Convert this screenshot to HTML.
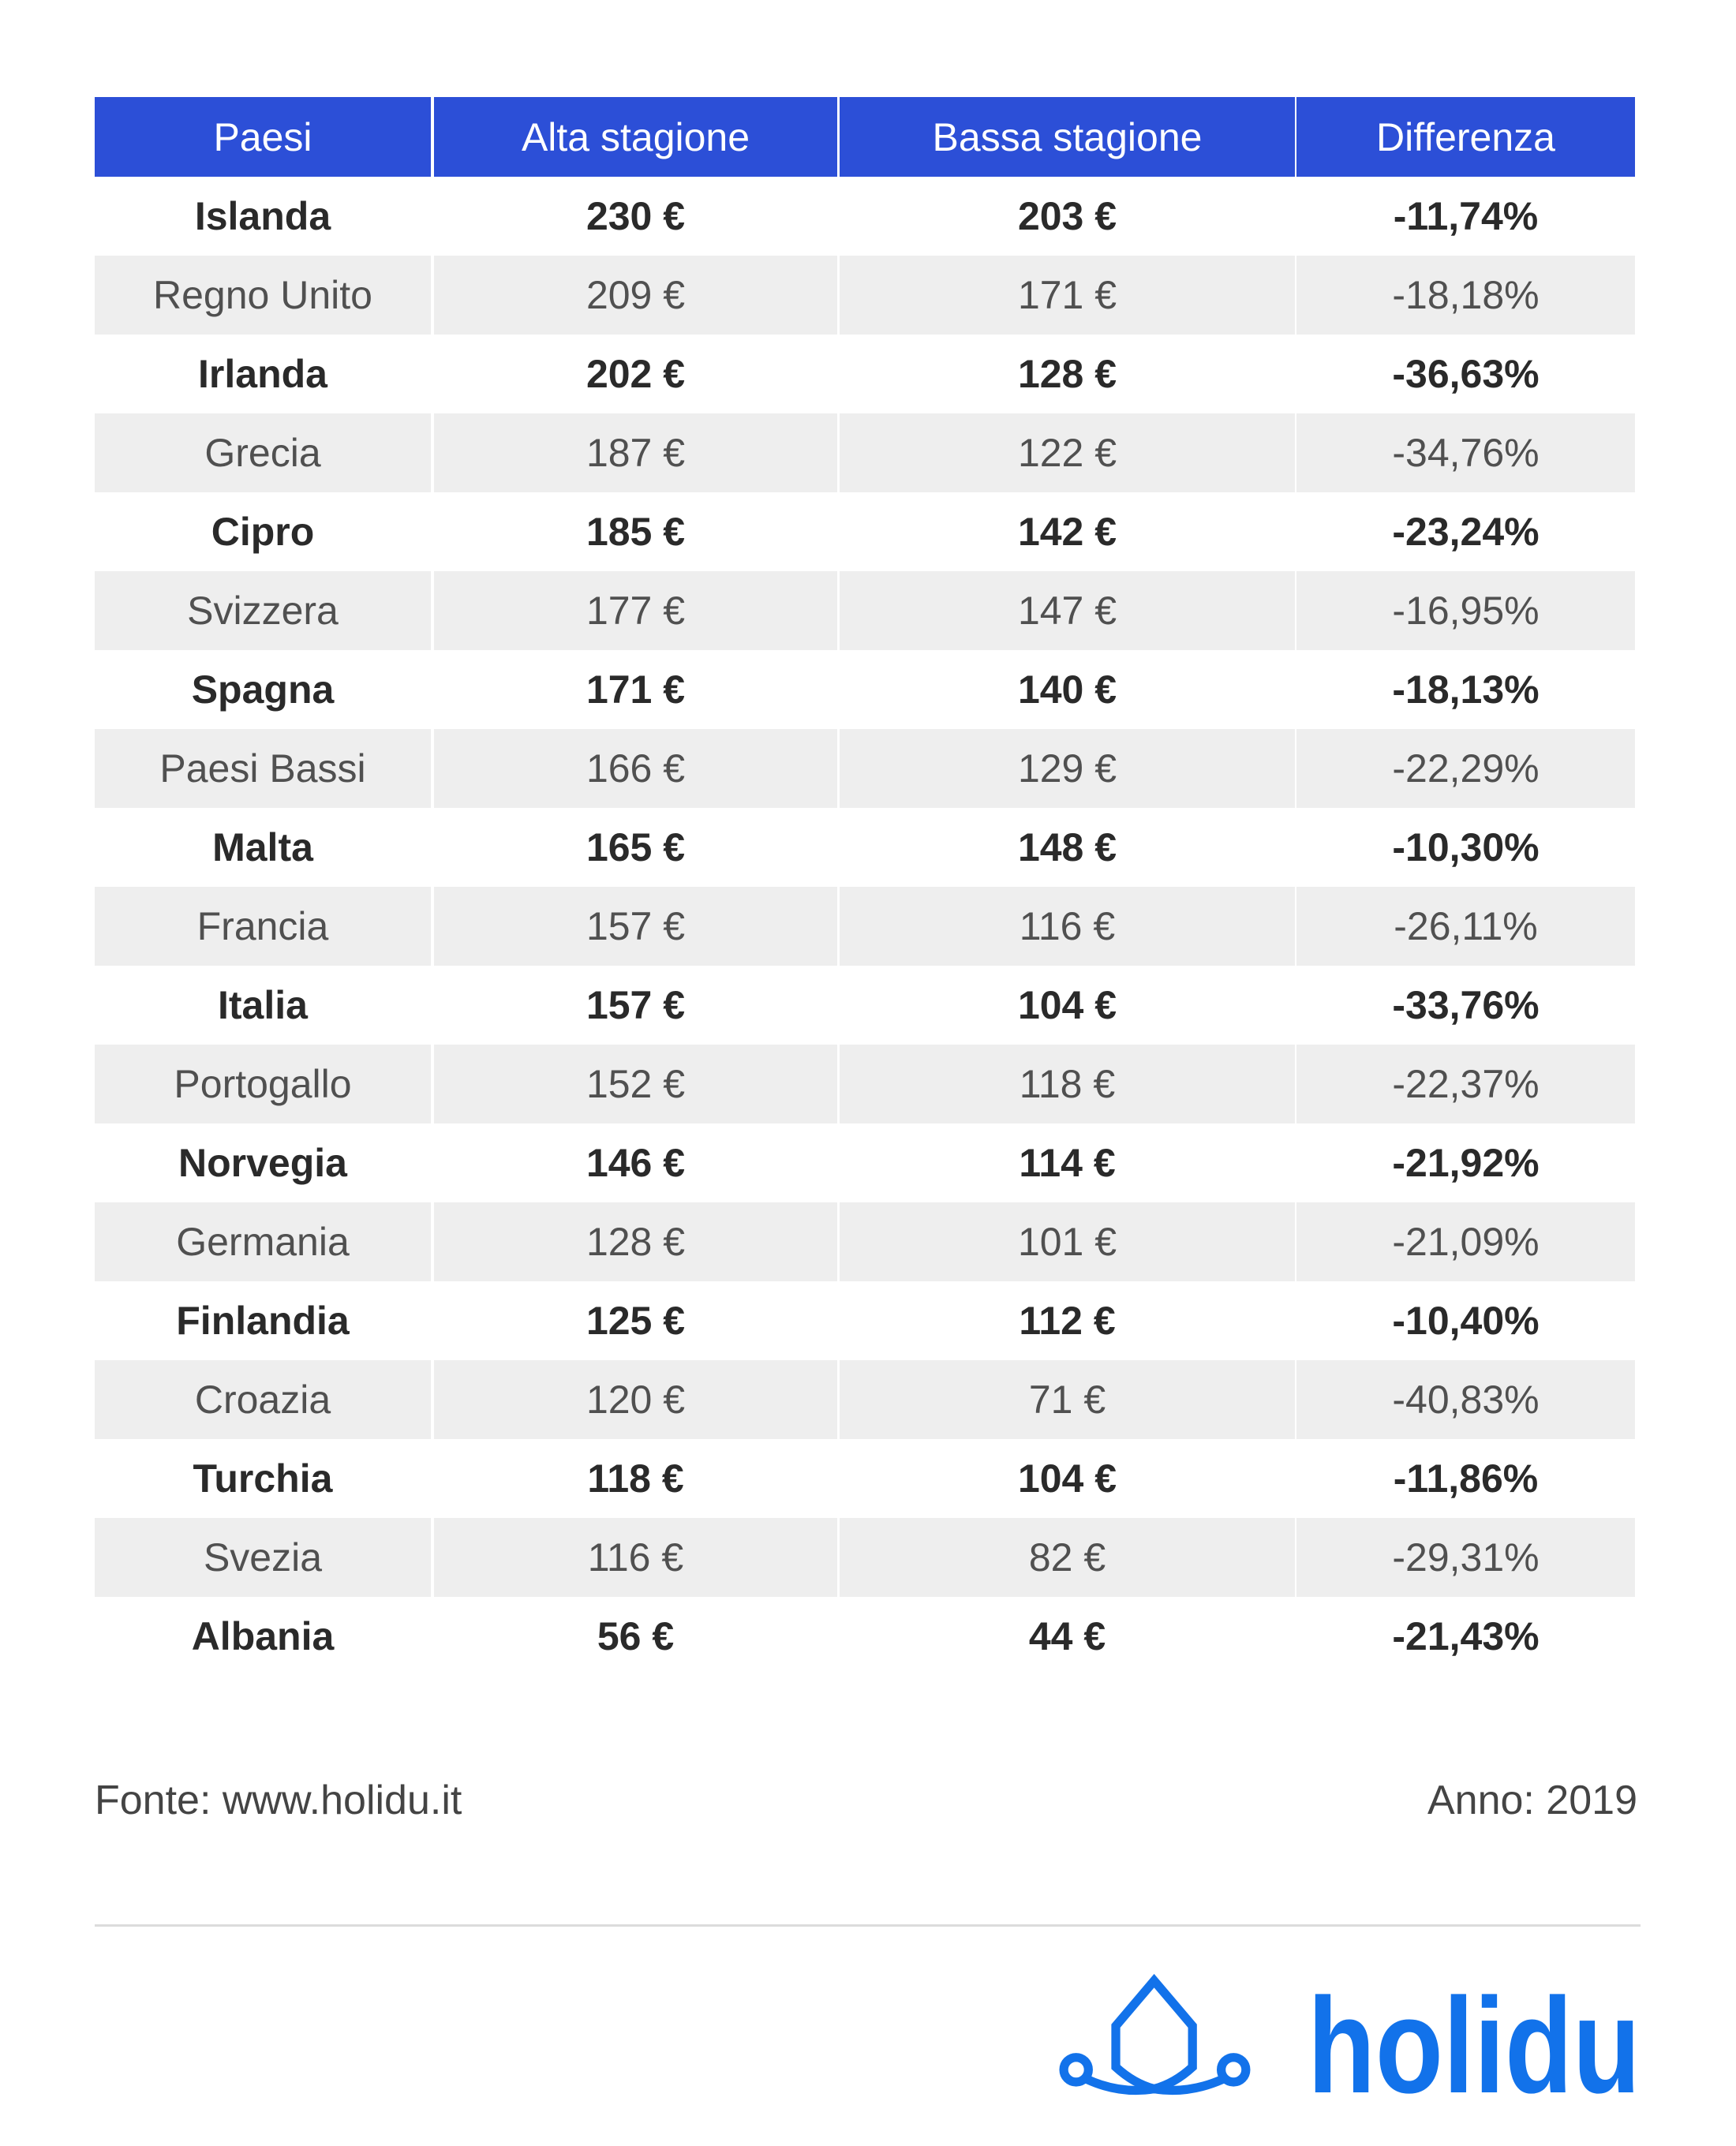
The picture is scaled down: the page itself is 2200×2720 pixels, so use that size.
<!DOCTYPE html>
<html><head><meta charset="utf-8"><style>
html,body{margin:0;padding:0;background:#fff;}
body{width:2200px;height:2720px;position:relative;overflow:hidden;font-family:"Liberation Sans",sans-serif;}
.r{position:absolute;left:120px;width:1952px;height:100px;}
.c{position:absolute;top:0;height:100%;display:flex;align-items:center;justify-content:center;font-size:50px;}
.w{color:#2a2a2a;font-weight:bold;}
.g .c{background:#eeeeee;color:#505050;}
.h .c{background:#2c4fd7;color:#fff;}
.c1{left:0;width:426px}.c2{left:430px;width:511px}.c3{left:944px;width:577px}.c4{left:1523px;width:429px}
</style></head><body>
<div class="r h" style="top:123px;height:101px">
<div class="c c1">Paesi</div><div class="c c2">Alta stagione</div><div class="c c3">Bassa stagione</div><div class="c c4">Differenza</div></div>
<div id="t"></div>
<script>
const d=[["Islanda","230 €","203 €","-11,74%"],["Regno Unito","209 €","171 €","-18,18%"],["Irlanda","202 €","128 €","-36,63%"],["Grecia","187 €","122 €","-34,76%"],["Cipro","185 €","142 €","-23,24%"],["Svizzera","177 €","147 €","-16,95%"],["Spagna","171 €","140 €","-18,13%"],["Paesi Bassi","166 €","129 €","-22,29%"],["Malta","165 €","148 €","-10,30%"],["Francia","157 €","116 €","-26,11%"],["Italia","157 €","104 €","-33,76%"],["Portogallo","152 €","118 €","-22,37%"],["Norvegia","146 €","114 €","-21,92%"],["Germania","128 €","101 €","-21,09%"],["Finlandia","125 €","112 €","-10,40%"],["Croazia","120 €","71 €","-40,83%"],["Turchia","118 €","104 €","-11,86%"],["Svezia","116 €","82 €","-29,31%"],["Albania","56 €","44 €","-21,43%"]];
let h="";d.forEach((r,i)=>{h+=`<div class="r ${i%2?'g':'w'}" style="top:${224+i*100}px">`+r.map((v,j)=>`<div class="c c${j+1}">${v}</div>`).join("")+"</div>";});
document.getElementById("t").outerHTML=h;
</script>
<div style="position:absolute;left:120px;top:2252px;font-size:52px;color:#444;line-height:60px">Fonte: www.holidu.it</div>
<div style="position:absolute;right:125px;top:2252px;font-size:52px;color:#444;line-height:60px">Anno: 2019</div>
<div style="position:absolute;left:120px;top:2439px;width:1959px;height:3px;background:#dcdcdc"></div>
<svg style="position:absolute;left:0;top:0" width="2200" height="2720">
<g transform="scale(1.735)" fill="none" stroke="#1272ea" stroke-width="6.5" stroke-linejoin="miter">
<path d="M843,1447 L815,1480 L815,1510 Q828,1522 843,1526 Q858,1522 871,1510 L871,1480 Z"/>
<circle cx="786" cy="1512" r="9"/><circle cx="901" cy="1512" r="9"/>
<path d="M794,1519 Q818,1530 843,1526 Q868,1530 893,1519"/>
</g>
<text x="1657" y="2652" font-size="172" font-weight="bold" fill="#1272ea" textLength="422" lengthAdjust="spacingAndGlyphs" font-family="Liberation Sans, sans-serif">holidu</text>
</svg>
</body></html>
